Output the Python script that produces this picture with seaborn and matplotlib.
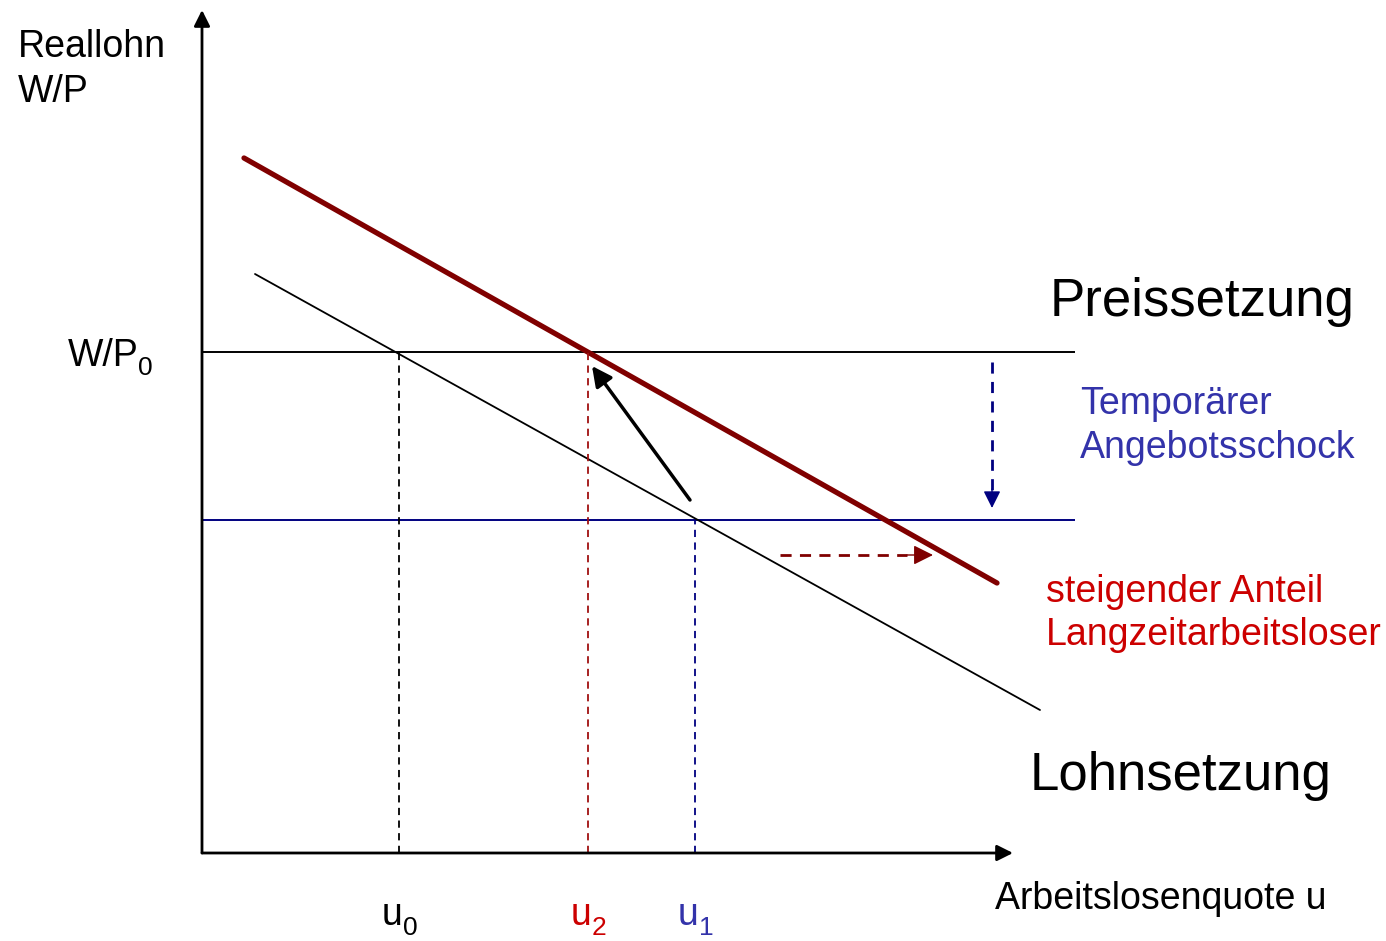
import matplotlib.pyplot as plt
import seaborn as sns
import pandas as pd

# diagram in arbitrary units: u = unemployment rate, w = real wage (origin at the axes corner)
wage_u = [0.53, 8.38]          # Lohnsetzung (original)
wage_w = [5.79, 1.43]
wage_new_u = [0.42, 7.95]      # Lohnsetzung shifted up (long-term unemployed)
wage_new_w = [6.95, 2.70]
wp0 = 5.01                     # Preissetzung W/P0
wp1 = 3.33                     # after temporary supply shock
line_end = 8.73
u0, u2, u1 = 1.97, 3.86, 4.93
u_labels = ["u", "u", "u"]
u_subs = ["0", "2", "1"]
u_vals = [u0, u2, u1]
u_colors = ["black", "#cc0000", "#3333aa"]

sns.set_theme(style="white")
plt.rcParams["font.family"] = ["Liberation Sans", "DejaVu Sans"]
plt.rcParams["text.color"] = "black"

fig = plt.figure(figsize=(13.86, 9.41), dpi=100)
ax = fig.add_axes([0, 0, 1, 1])
ax.set_xlim(-2.02, 11.84)
ax.set_ylim(-0.88, 8.53)
ax.axis("off")

# axes with arrow heads
ax.annotate("", xy=(8.11, 0), xytext=(0, 0),
            arrowprops=dict(arrowstyle="-|>", color="black", lw=2, mutation_scale=24, shrinkA=0, shrinkB=0))
ax.annotate("", xy=(0, 8.43), xytext=(0, 0),
            arrowprops=dict(arrowstyle="-|>", color="black", lw=2, mutation_scale=24, shrinkA=0, shrinkB=0))

# horizontal lines
ax.hlines(wp0, 0, line_end, color="black", lw=1.4)
ax.hlines(wp1, 0, line_end, color="#000080", lw=1.4)

# wage-setting curves
df_old = pd.DataFrame({"u": wage_u, "w": wage_w})
df_new = pd.DataFrame({"u": wage_new_u, "w": wage_new_w})
sns.lineplot(data=df_old, x="u", y="w", ax=ax, color="black", lw=1.3, sort=False)
sns.lineplot(data=df_new, x="u", y="w", ax=ax, color="#800000", lw=3.8, sort=False)

# dashed drop lines
ax.vlines(u0, 0, wp0, color="black", lw=1.3, linestyles=(0, (4, 3)))
ax.vlines(u2, 0, wp0, color="#a01010", lw=1.3, linestyles=(0, (4, 3)))
ax.vlines(u1, 0, wp1, color="#000080", lw=1.3, linestyles=(0, (4, 3)))

# adjustment arrow
ax.annotate("", xy=(3.90, 4.87), xytext=(4.88, 3.53),
            arrowprops=dict(arrowstyle="-|>", color="black", lw=2.5, mutation_scale=30, shrinkA=0, shrinkB=0))

# dashed shift arrows
ax.plot([5.78, 7.05], [2.98, 2.98], color="#800000", lw=2, ls=(0, (4, 3)))
ax.annotate("", xy=(7.31, 2.98), xytext=(7.05, 2.98),
            arrowprops=dict(arrowstyle="-|>", color="#800000", lw=1, mutation_scale=30, shrinkA=0, shrinkB=0))
ax.plot([7.90, 7.90], [4.91, 3.62], color="#000080", lw=2, ls=(0, (4, 3)))
ax.annotate("", xy=(7.90, 3.45), xytext=(7.90, 3.64),
            arrowprops=dict(arrowstyle="-|>", color="#000080", lw=1, mutation_scale=26, shrinkA=0, shrinkB=0))

# labels
ax.text(-1.84, 7.96, "Reallohn", fontsize=27, va="baseline", ha="left")
ax.text(-1.84, 7.51, "W/P", fontsize=27, va="baseline", ha="left")
ax.text(-1.34, 4.87, "W/P", fontsize=27, va="baseline", ha="left")
ax.text(-0.64, 4.78, "0", fontsize=19, va="baseline", ha="left")
for lab, sub, x, c in zip(u_labels, u_subs, u_vals, u_colors):
    ax.text(x - 0.07, -0.72, lab, fontsize=27, va="baseline", ha="center", color=c)
    ax.text(x + 0.11, -0.82, sub, fontsize=19, va="baseline", ha="center", color=c)
ax.text(7.93, -0.56, "Arbeitslosenquote u", fontsize=27, va="baseline", ha="left")
ax.text(8.48, 5.37, "Preissetzung", fontsize=38, va="baseline", ha="left")
ax.text(8.28, 0.63, "Lohnsetzung", fontsize=38, va="baseline", ha="left")
ax.text(8.78, 4.39, "Temporärer", fontsize=27, va="baseline", ha="left", color="#3333aa")
ax.text(8.78, 3.95, "Angebotsschock", fontsize=27, va="baseline", ha="left", color="#3333aa")
ax.text(8.44, 2.51, "steigender Anteil", fontsize=27, va="baseline", ha="left", color="#cc0000")
ax.text(8.44, 2.08, "Langzeitarbeitsloser", fontsize=27, va="baseline", ha="left", color="#cc0000")

fig.savefig("out.png", dpi=100, facecolor="white")
